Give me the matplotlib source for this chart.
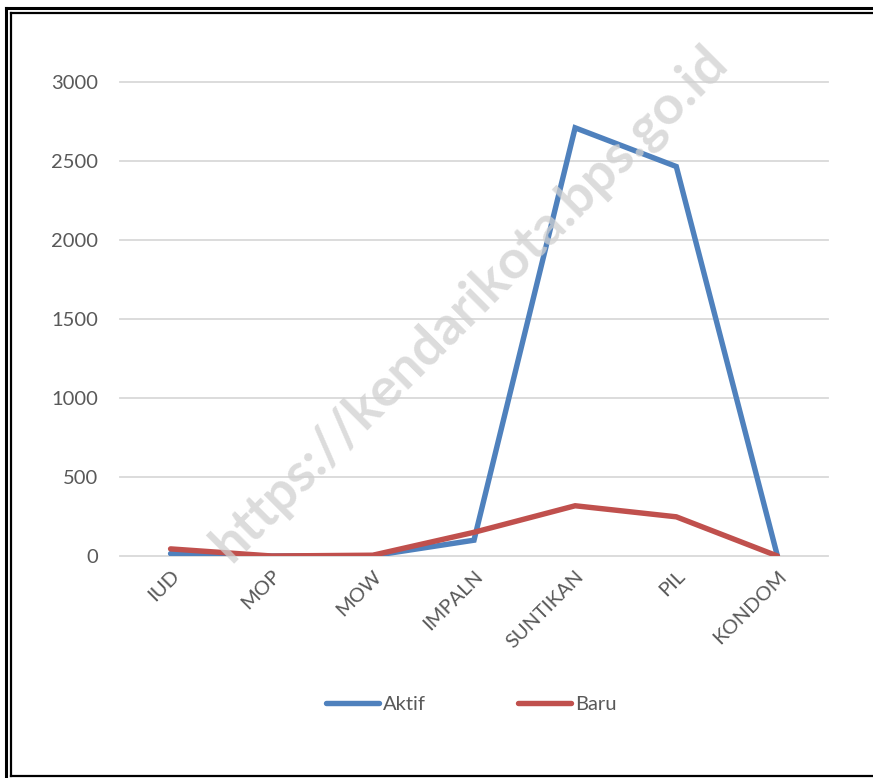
import matplotlib.pyplot as plt
from matplotlib.lines import Line2D

# data
categories = ['IUD', 'MOP', 'MOW', 'IMPALN', 'SUNTIKAN', 'PIL', 'KONDOM']
aktif = [15, 0, 2, 100, 2710, 2465, 0]
baru = [45, 0, 5, 150, 318, 248, 0]
yticks = [0, 500, 1000, 1500, 2000, 2500, 3000]

plt.rcParams['font.family'] = ['Lato', 'DejaVu Sans']

W, H = 873, 778
fig = plt.figure(figsize=(W / 100, H / 100), dpi=100)

# plot area in pixel coordinates
left, right, top, bottom = 120, 828, 82, 556
ax = fig.add_axes([left / W, (H - bottom) / H, (right - left) / W, (bottom - top) / H])

x = list(range(len(categories)))
ax.plot(x, aktif, color='#4F81BD', linewidth=3.9, solid_capstyle='round',
        solid_joinstyle='miter', label='Aktif', zorder=3)
ax.plot(x, baru, color='#C0504D', linewidth=3.9, solid_capstyle='round',
        solid_joinstyle='miter', label='Baru', zorder=4)

ax.set_xlim(-0.5, len(categories) - 0.5)
ax.set_ylim(0, 3000)
ax.set_yticks(yticks)
ax.set_yticklabels([str(v) for v in yticks])
ax.set_xticks(x)
ax.set_xticklabels(categories, rotation=45, ha='right', va='top', rotation_mode='anchor')

for v in yticks:
    ax.axhline(v, color='#D9D9D9', linewidth=1.3, zorder=1, clip_on=False)

for s in ax.spines.values():
    s.set_visible(False)
ax.tick_params(axis='both', length=0, labelsize=14.5, labelcolor='#595959')
ax.tick_params(axis='y', pad=16)
ax.tick_params(axis='x', pad=8)

# watermark
fig.text(0.538, 0.61, 'https://kendarikota.bps.go.id', rotation=45,
         ha='center', va='center', fontsize=39, fontweight='bold',
         color='#D0D0D0', alpha=0.75, zorder=0)

leg = fig.legend(loc='center', bbox_to_anchor=(0.54, (H - 704) / H), ncol=2,
                 frameon=False, fontsize=14.5, handlelength=2.6, handletextpad=0.2,
                 columnspacing=4.6)
for t in leg.get_texts():
    t.set_color('#595959')

# double frame around the chart
def fline(xs, ys, lw):
    fig.add_artist(Line2D([v / W for v in xs], [1 - v / H for v in ys],
                          color='black', linewidth=lw, transform=fig.transFigure))

fline([6, 6], [8, H], 2.2)
fline([6, W], [8, 8], 2.2)
fline([11, 11], [13, 776], 1.6)
fline([11, W], [13, 13], 1.6)
fline([11, W], [776, 776], 1.6)

fig.savefig('out.png', dpi=100, facecolor='white')
